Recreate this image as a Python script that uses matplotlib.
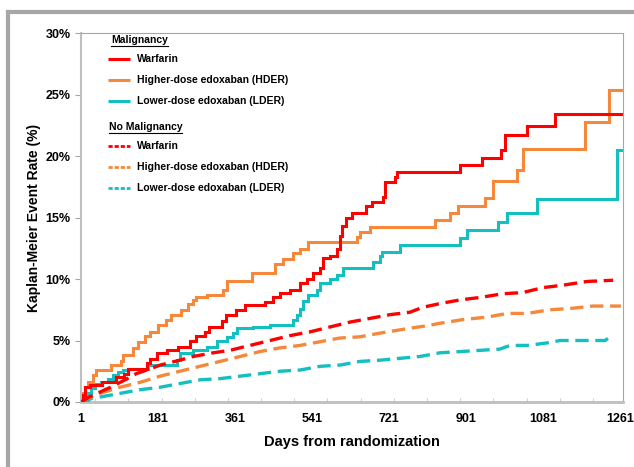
import numpy as np
import matplotlib
matplotlib.use('Agg')
import matplotlib.pyplot as plt
from matplotlib.lines import Line2D
from matplotlib.ticker import FixedLocator, FuncFormatter

plt.rcParams['font.family'] = ['Liberation Sans', 'DejaVu Sans']

# ---------------- data (days from randomization, KM event rate %) ----------------
x_ticks = [1, 181, 361, 541, 721, 901, 1081, 1261]
y_ticks = [0, 5, 10, 15, 20, 25, 30]

mal_warf_days = [1, 6, 10, 22, 50, 83, 101, 111, 155, 162, 179, 202, 228, 256, 270, 291, 300,
                 331, 340, 363, 384, 431, 450, 466, 490, 513, 529, 543, 560, 567, 583, 599, 606,
                 611, 620, 634, 667, 681, 707, 712, 735, 740, 887, 938, 983, 992, 1044, 1109, 1263]
mal_warf_rate = [0, 0.6, 1.2, 1.4, 1.6, 2.0, 2.3, 2.7, 3.2, 3.5, 4.0, 4.2, 4.5, 5.0, 5.4, 5.7, 6.1,
                 6.6, 7.1, 7.5, 7.9, 8.1, 8.5, 8.9, 9.1, 9.7, 10.0, 10.5, 10.9, 11.7, 11.9, 12.4, 13.5,
                 14.3, 15.0, 15.4, 15.9, 16.3, 16.7, 17.9, 18.3, 18.7, 19.3, 19.8, 20.5, 21.7, 22.4, 23.4, 23.4]

mal_hder_days = [1, 6, 10, 17, 29, 36, 71, 95, 99, 123, 134, 151, 162, 181, 200, 211, 235, 251,
                 263, 270, 296, 333, 342, 401, 455, 473, 497, 513, 532, 646, 653, 677, 829, 864,
                 882, 945, 964, 1020, 1034, 1179, 1235, 1263]
mal_hder_rate = [0, 0.7, 1.2, 1.6, 2.2, 2.6, 3.0, 3.3, 3.8, 4.4, 4.9, 5.4, 5.7, 6.3, 6.7, 7.1, 7.5, 8.0,
                 8.3, 8.5, 8.7, 9.1, 9.8, 10.5, 11.2, 11.6, 12.1, 12.4, 13.0, 13.4, 13.8, 14.2, 14.8, 15.4,
                 15.9, 16.6, 18.0, 18.9, 20.6, 22.8, 25.4, 25.4]

mal_lder_days = [1, 13, 17, 24, 34, 48, 64, 76, 87, 99, 111, 158, 225, 232, 263, 296, 319, 342,
                 356, 366, 403, 443, 497, 506, 513, 520, 532, 553, 560, 583, 599, 613, 684, 700,
                 705, 747, 887, 903, 976, 997, 1067, 1254, 1263]
mal_lder_rate = [0, 0.3, 0.7, 1.1, 1.5, 1.6, 1.9, 2.2, 2.4, 2.6, 2.7, 3.0, 3.4, 4.0, 4.2, 4.5, 5.0, 5.3,
                 5.6, 6.0, 6.1, 6.3, 6.7, 7.1, 7.6, 8.2, 8.7, 9.1, 9.7, 10.0, 10.3, 10.9, 11.4, 11.9,
                 12.2, 12.8, 13.3, 14.0, 14.6, 15.4, 16.5, 20.5, 20.5]

nomal_warf_days = [1, 20, 45, 70, 104, 130, 155, 186, 232, 263, 310, 349, 396, 443, 490, 536, 583,
                   630, 677, 723, 770, 800, 840, 887, 934, 987, 1034, 1081, 1128, 1184, 1245]
nomal_warf_rate = [0, 0.4, 0.8, 1.2, 1.8, 2.3, 2.6, 3.0, 3.4, 3.7, 4.0, 4.2, 4.6, 5.0, 5.4, 5.7, 6.1,
                   6.5, 6.8, 7.1, 7.3, 7.7, 8.0, 8.3, 8.5, 8.8, 8.9, 9.3, 9.5, 9.8, 9.9]

nomal_hder_days = [1, 10, 45, 92, 139, 186, 232, 279, 326, 373, 419, 466, 513, 560, 606, 653, 700,
                   770, 810, 840, 894, 950, 997, 1044, 1097, 1144, 1198, 1263]
nomal_hder_rate = [0, 0.2, 0.7, 1.2, 1.6, 2.1, 2.5, 2.9, 3.3, 3.7, 4.1, 4.4, 4.6, 4.9, 5.2, 5.3, 5.6,
                   6.0, 6.2, 6.4, 6.7, 6.9, 7.2, 7.2, 7.5, 7.6, 7.8, 7.8]

nomal_lder_days = [1, 13, 25, 45, 92, 139, 186, 232, 279, 326, 373, 419, 466, 513, 560, 606, 653,
                   700, 793, 840, 887, 934, 980, 1004, 1044, 1090, 1121, 1184, 1226, 1242]
nomal_lder_rate = [0, 0.0, 0.3, 0.4, 0.7, 1.0, 1.2, 1.5, 1.8, 1.9, 2.1, 2.3, 2.5, 2.6, 2.9, 3.0, 3.3,
                   3.4, 3.7, 4.0, 4.1, 4.2, 4.3, 4.6, 4.6, 4.8, 5.0, 5.0, 5.0, 5.4]

labels = ['Warfarin', 'Higher-dose edoxaban (HDER)', 'Lower-dose edoxaban (LDER)']
group_titles = ['Malignancy', 'No Malignancy']

RED = '#FF0000'
ORANGE = '#F5883A'
CYAN = '#14BFC0'

# ---------------- figure ----------------
W, H = 634, 467
fig = plt.figure(figsize=(W / 100, H / 100), dpi=100)
fig.patch.set_facecolor('white')

# screenshot-like grey frame (left and top)
fig.add_artist(Line2D([8 / W, 8 / W], [0, 1 - 10 / H], color='#A6A6A6', lw=3.0,
                      transform=fig.transFigure, solid_capstyle='butt'))
fig.add_artist(Line2D([6 / W, 1], [1 - 12 / H, 1 - 12 / H], color='#A6A6A6', lw=3.0,
                      transform=fig.transFigure, solid_capstyle='butt'))

ax = fig.add_axes([81 / W, 65 / H, 542 / W, 369 / H])
ax.set_xlim(1, 1268)
ax.set_ylim(0, 30)

lw = 2.2
solid_kw = dict(where='post', lw=lw, solid_joinstyle='miter')
l1, = ax.step(mal_warf_days, mal_warf_rate, color=RED, **solid_kw, zorder=5)
l2, = ax.step(mal_hder_days, mal_hder_rate, color=ORANGE, **solid_kw, zorder=4)
l3, = ax.step(mal_lder_days, mal_lder_rate, color=CYAN, **solid_kw, zorder=3)

dash_kw = dict(lw=2.4, dashes=(4.0, 2.0), dash_capstyle='butt')
d1, = ax.plot(nomal_warf_days, nomal_warf_rate, color=RED, **dash_kw, zorder=5)
d2, = ax.plot(nomal_hder_days, nomal_hder_rate, color=ORANGE, **dash_kw, zorder=4)
d3, = ax.plot(nomal_lder_days, nomal_lder_rate, color=CYAN, **dash_kw, zorder=3)

# axes styling
for s in ['top', 'right']:
    ax.spines[s].set_color('#A6A6A6')
    ax.spines[s].set_linewidth(0.8)
ax.spines['left'].set_color('#BFBFBF')
ax.spines['left'].set_linewidth(1.5)
ax.spines['bottom'].set_color('#BFBFBF')
ax.spines['bottom'].set_linewidth(2.0)

ax.xaxis.set_major_locator(FixedLocator(x_ticks))
ax.yaxis.set_major_locator(FixedLocator(y_ticks))
ax.yaxis.set_major_formatter(FuncFormatter(lambda v, p: f'{int(v)}%'))
ax.tick_params(axis='y', length=4.5, width=0.8, color='#A6A6A6', pad=3,
               labelsize=9)
ax.tick_params(axis='x', length=0, pad=8, labelsize=9)
ax.xaxis.set_minor_locator(FixedLocator(np.arange(34, 1261, 77.6)))
ax.tick_params(axis='x', which='minor', direction='in', length=3, width=0.8, color='#D0D0D0')
for t in ax.get_xticklabels() + ax.get_yticklabels():
    t.set_fontweight('bold')

ax.set_xlabel('Days from randomization', fontsize=10.5, fontweight='bold', labelpad=7)
ax.set_ylabel('Kaplan-Meier Event Rate (%)', fontsize=10, fontweight='bold', labelpad=3)

# ---------------- legend (two groups with underlined titles) ----------------
fs = 7.5
hx0, hx1, tx = 0.050, 0.091, 0.104
groups = [
    (group_titles[0], 0.055, 0.981, [(l1, 0.9295), (l2, 0.8726), (l3, 0.8157)], False),
    (group_titles[1], 0.051, 0.7453, [(d1, 0.6946), (d2, 0.636), (d3, 0.579)], True),
]
fig.canvas.draw()
renderer = fig.canvas.get_renderer()
for title, x0, y0, entries, dashed in groups:
    t = ax.text(x0, y0, title, transform=ax.transAxes, fontsize=fs, fontweight='bold',
                va='center', ha='left')
    bb = t.get_window_extent(renderer).transformed(ax.transAxes.inverted())
    uy = bb.y0 - 0.002
    ax.add_line(Line2D([bb.x0, bb.x1], [uy, uy], transform=ax.transAxes,
                       color='black', lw=0.8, clip_on=False))
    for (line, y), lab in zip(entries, labels):
        kw = dict(color=line.get_color(), transform=ax.transAxes, clip_on=False)
        if dashed:
            ax.add_line(Line2D([hx0, hx1], [y, y], lw=2.0, dashes=(1.5, 0.7),
                               dash_capstyle='butt', **kw))
        else:
            ax.add_line(Line2D([hx0, hx1], [y, y], lw=2.2, solid_capstyle='butt', **kw))
        ax.text(tx, y, lab, transform=ax.transAxes, fontsize=fs, fontweight='bold',
                va='center', ha='left')

fig.savefig('out.png', dpi=100, facecolor='white')
